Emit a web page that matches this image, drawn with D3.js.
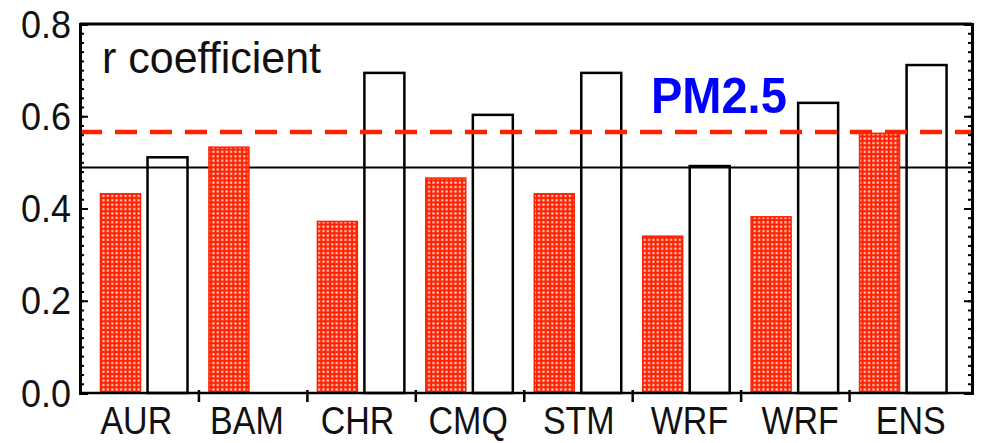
<!DOCTYPE html>
<html>
<head>
<meta charset="utf-8">
<script src="https://cdn.jsdelivr.net/npm/d3@7"></script>
<style>
  body { margin: 0; background: white; }
  text { font-family: "Liberation Sans", Arial, sans-serif; }
</style>
</head>
<body>
<div id="container"></div>
<script>
let w = 990;
let h = 443;

// data
let models = ["AUR", "BAM", "CHR", "CMQ", "STM", "WRF", "WRF", "ENS"];
let redValues = [0.432, 0.533, 0.372, 0.466, 0.432, 0.340, 0.382, 0.563];
let blackValues = [0.511, null, 0.694, 0.603, 0.694, 0.492, 0.629, 0.711];
let yTicks = [0.0, 0.2, 0.4, 0.6, 0.8];
let redLine = 0.566;
let blackLine = 0.489;

let viz = d3.select("#container")
  .append("svg")
    .attr("width", w)
    .attr("height", h)
    .style("background-color", "white")
;

let plotLeft = 80, plotRight = 972, plotTop = 24, plotBottom = 393;
let red = "#ff2200";

let yScale = d3.scaleLinear().domain([0, 0.8]).range([plotBottom, plotTop]);
let xScale = d3.scaleBand().domain(d3.range(models.length)).range([90.5, 958]);
let labelScale = d3.scaleBand().domain(d3.range(models.length)).range([81, 966]);
let subScale = d3.scaleBand().domain(["red", "black"]).range([10, 97]).paddingInner(0.15);

// checker pattern for red bars
let defs = viz.append("defs");
let pat = defs.append("pattern")
    .attr("id", "checks")
    .attr("patternUnits", "userSpaceOnUse")
    .attr("width", 4.4)
    .attr("height", 4.4);
pat.append("rect").attr("width", 4.4).attr("height", 4.4).attr("fill", red);
pat.append("rect").attr("x", 1.2).attr("y", 1.2).attr("width", 2.1).attr("height", 2.1).attr("fill", "white").attr("opacity", 0.85);

// horizontal black reference line
viz.append("line")
    .attr("x1", plotLeft).attr("x2", plotRight)
    .attr("y1", yScale(blackLine)).attr("y2", yScale(blackLine))
    .attr("stroke", "black").attr("stroke-width", 2);

// black open bars
let blackData = blackValues.map(function(v, i){ return {i: i, v: v}; }).filter(function(d){ return d.v != null; });
viz.selectAll(".blackbar").data(blackData).enter()
  .append("rect")
    .classed("blackbar", true)
    .attr("x", function(d){ return xScale(d.i) + subScale("black"); })
    .attr("y", function(d){ return yScale(d.v); })
    .attr("width", subScale.bandwidth())
    .attr("height", function(d){ return plotBottom - yScale(d.v); })
    .attr("fill", "none")
    .attr("stroke", "black")
    .attr("stroke-width", 2.5)
;

// red hatched bars
viz.selectAll(".redbar").data(redValues).enter()
  .append("rect")
    .classed("redbar", true)
    .attr("x", function(d, i){ return xScale(i) + subScale("red"); })
    .attr("y", function(d){ return yScale(d); })
    .attr("width", subScale.bandwidth())
    .attr("height", function(d){ return plotBottom - yScale(d); })
    .attr("fill", "url(#checks)")
    .attr("stroke", red)
    .attr("stroke-width", 1.5)
;

// red dashed line
viz.append("line")
    .attr("x1", plotLeft).attr("x2", plotRight)
    .attr("y1", yScale(redLine)).attr("y2", yScale(redLine))
    .attr("stroke", red).attr("stroke-width", 4.5)
    .attr("stroke-dasharray", "22,13");

// frame
viz.append("line").attr("x1", plotLeft).attr("x2", plotRight).attr("y1", plotTop).attr("y2", plotTop)
    .attr("stroke", "black").attr("stroke-width", 3);
viz.append("line").attr("x1", plotLeft).attr("x2", plotRight).attr("y1", plotBottom).attr("y2", plotBottom)
    .attr("stroke", "black").attr("stroke-width", 2.5);

// y axes, major and minor ticks inward
let minor = d3.range(0, 0.8001, 0.02);
let yAxis = viz.append("g")
    .attr("transform", "translate(" + plotLeft + ",0)")
    .call(d3.axisLeft(yScale).tickValues(yTicks).tickFormat(d3.format(".1f")).tickSize(-8).tickPadding(9));
viz.append("g")
    .attr("transform", "translate(" + plotLeft + ",0)")
    .call(d3.axisLeft(yScale).tickValues(minor).tickFormat("").tickSize(-4).tickSizeOuter(0));
viz.append("g")
    .attr("transform", "translate(" + plotRight + ",0)")
    .call(d3.axisRight(yScale).tickValues(yTicks).tickFormat("").tickSize(-8));
viz.append("g")
    .attr("transform", "translate(" + plotRight + ",0)")
    .call(d3.axisRight(yScale).tickValues(minor).tickFormat("").tickSize(-4).tickSizeOuter(0));

viz.selectAll(".domain").attr("stroke-width", 3);
viz.selectAll(".tick line").attr("stroke-width", 2);
yAxis.selectAll("text")
    .attr("font-size", 36)
    .attr("fill", "#111")
    .attr("font-family", "'Liberation Sans', Arial, sans-serif")
    .attr("dy", null)
    .attr("x", null)
    .attr("transform", "translate(-9,13) scale(1,1.1)");

// category dividers on bottom axis
viz.selectAll(".divider").data(d3.range(1, models.length)).enter()
  .append("line")
    .classed("divider", true)
    .attr("x1", function(d){ return xScale(d); })
    .attr("x2", function(d){ return xScale(d); })
    .attr("y1", plotBottom - 3)
    .attr("y2", plotBottom + 9)
    .attr("stroke", "black")
    .attr("stroke-width", 2.5)
;

// category labels (a bit taller than wide, like the source figure)
viz.selectAll(".xlabel").data(models).enter()
  .append("text")
    .classed("xlabel", true)
    .text(function(d){ return d; })
    .attr("transform", function(d, i){
      return "translate(" + (labelScale(i) + labelScale.bandwidth() / 2) + ",434) scale(1,1.15)";
    })
    .attr("text-anchor", "middle")
    .attr("font-size", 34)
    .attr("fill", "#111")
;

viz.append("text")
    .text("r coefficient")
    .attr("transform", "translate(102,73) scale(1,1.05)")
    .attr("font-size", 43)
    .attr("fill", "#111");

viz.append("text")
    .text("PM2.5")
    .attr("transform", "translate(651,113) scale(1,1.07)")
    .attr("font-size", 47)
    .attr("font-weight", "bold")
    .attr("fill", "#0000ff");
</script>
</body>
</html>
